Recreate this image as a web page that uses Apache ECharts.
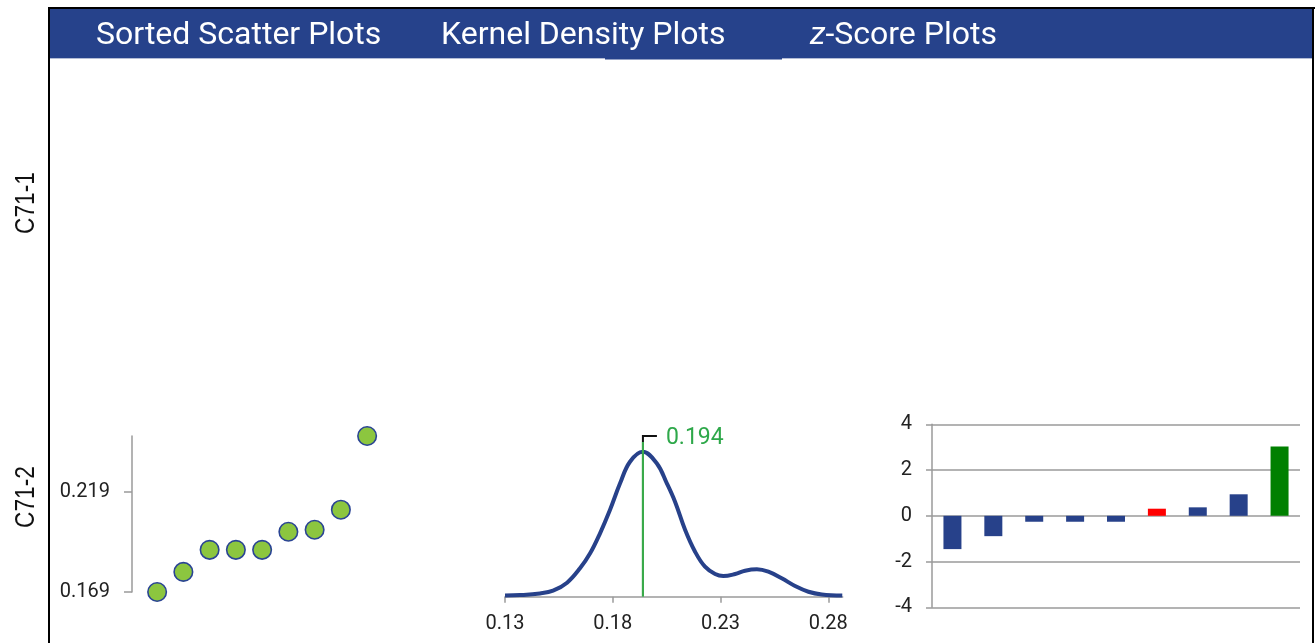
<!DOCTYPE html>
<html>
<head>
<meta charset="utf-8">
<script src="https://cdn.jsdelivr.net/npm/echarts@6/dist/echarts.min.js"></script>
<style>
html,body{margin:0;padding:0;background:#fff;}
#chart{width:1315px;height:643px;}
</style>
</head>
<body>
<div id="chart"></div>
<script>
// ---------- data ----------
const panelTitles = ['Sorted Scatter Plots', 'Kernel Density Plots', 'z-Score Plots'];
const rowLabels = ['C71-1', 'C71-2'];
const labs = ['1', '2', '3', '4', '5', '6', '7', '8', '9'];
const sortedValues = [0.169, 0.179, 0.190, 0.190, 0.190, 0.199, 0.200, 0.210, 0.2467];
const scatterTicks = [0.169, 0.219];
const kdeX = [0.130, 0.137, 0.1462, 0.1523, 0.1588, 0.1648, 0.1695, 0.1741, 0.1787, 0.1834, 0.1880, 0.1939, 0.2004, 0.2051, 0.2089, 0.2136, 0.2182, 0.2228, 0.2275, 0.2313, 0.2368, 0.2414, 0.2469, 0.2522, 0.2584, 0.2646, 0.2708, 0.2770, 0.2865];
const kdeY = [0.15, 0.22, 0.45, 0.82, 1.92, 3.89, 5.94, 8.68, 11.87, 15.52, 18.48, 19.85, 18.26, 15.52, 13.0, 9.13, 6.16, 4.11, 3.11, 2.83, 3.11, 3.56, 3.75, 3.42, 2.52, 1.46, 0.68, 0.30, 0.15];
const kdeTicks = [0.13, 0.18, 0.23, 0.28];
const kdeMin = 0.13, kdeMax = 0.2867, kdeTop = 22;
const modeValue = 0.194;
const zScores = [-1.456, -0.89, -0.26, -0.26, -0.26, 0.31, 0.37, 0.94, 3.03];
const zTicks = [-4, -2, 0, 2, 4];
const ownLabIndex = 5;

// ---------- styles ----------
const NAVY = '#27418a';
const HEADER = '#26428b';
const GRAY = '#9a9a9a';
const TXT = '#222222';
const NUMFONT = 'Roboto';

const chart = echarts.init(document.getElementById('chart'), null, {renderer: 'canvas'});

const kdeData = kdeX.map((x, i) => [x, kdeY[i]]);
const maxZ = Math.max(...zScores);

const option = {
  animation: false,
  graphic: [
    // frame
    {type: 'rect', shape: {x: 48, y: 7, width: 1267, height: 2}, style: {fill: '#000'}},
    {type: 'rect', shape: {x: 48, y: 7, width: 2, height: 640}, style: {fill: '#000'}},
    {type: 'rect', shape: {x: 1312, y: 7, width: 2, height: 640}, style: {fill: '#000'}},
    // header band
    {type: 'rect', shape: {x: 50, y: 9, width: 1262, height: 49}, style: {fill: HEADER}},
    {type: 'rect', shape: {x: 50, y: 58, width: 555, height: 1}, style: {fill: '#b4bdd6'}},
    {type: 'rect', shape: {x: 782, y: 58, width: 530, height: 1}, style: {fill: '#b4bdd6'}},
    {type: 'rect', shape: {x: 605, y: 58, width: 177, height: 1.5}, style: {fill: HEADER}},
    {type: 'text', x: 96, y: 36, style: {text: panelTitles[0], fill: '#fff', font: '32px ' + NUMFONT, verticalAlign: 'middle'}},
    {type: 'text', x: 441, y: 36, style: {text: panelTitles[1], fill: '#fff', font: '32px ' + NUMFONT, verticalAlign: 'middle'}},
    {type: 'text', x: 810, y: 36, style: {
      text: '{i|' + panelTitles[2].slice(0, 1) + '}{n|' + panelTitles[2].slice(1) + '}',
      verticalAlign: 'middle',
      rich: {
        i: {fill: '#fff', font: 'italic 32px ' + NUMFONT},
        n: {fill: '#fff', font: '32px ' + NUMFONT}
      }
    }},
    // row labels
    {type: 'text', x: 27, y: 203, rotation: Math.PI / 2, scaleX: 0.84, style: {text: rowLabels[0], fill: '#111', font: '27px "Liberation Sans", Arial, sans-serif', align: 'center', verticalAlign: 'middle'}},
    {type: 'text', x: 27, y: 497, rotation: Math.PI / 2, scaleX: 0.84, style: {text: rowLabels[1], fill: '#111', font: '27px "Liberation Sans", Arial, sans-serif', align: 'center', verticalAlign: 'middle'}}
  ],
  grid: [
    {left: 144, top: 436, width: 236.25, height: 156},
    {left: 505, top: 436, width: 337.7, height: 160.7},
    {left: 932, top: 424.3, width: 368, height: 183}
  ],
  xAxis: [
    {gridIndex: 0, type: 'category', data: labs, show: false, boundaryGap: true},
    {gridIndex: 1, type: 'value', min: kdeMin, max: kdeMax,
      axisLine: {show: true, lineStyle: {color: GRAY, width: 1.5}},
      axisTick: {show: true, length: 6, lineStyle: {color: GRAY, width: 1.5}, customValues: kdeTicks},
      axisLabel: {show: true, margin: 17, color: TXT, fontSize: 20, fontFamily: NUMFONT, customValues: kdeTicks, formatter: v => v.toFixed(2)},
      splitLine: {show: false}},
    {gridIndex: 2, type: 'category', data: labs, show: false, boundaryGap: true}
  ],
  yAxis: [
    {gridIndex: 0, type: 'value', min: 'dataMin', max: 'dataMax', offset: 12,
      axisLine: {show: true, lineStyle: {color: GRAY, width: 1.5}},
      axisTick: {show: true, length: 8, lineStyle: {color: GRAY, width: 1.5}, customValues: scatterTicks},
      axisLabel: {show: true, margin: 22, color: TXT, fontSize: 20, fontFamily: NUMFONT, customValues: scatterTicks, formatter: v => v.toFixed(3)},
      splitLine: {show: false}},
    {gridIndex: 1, type: 'value', min: 0, max: kdeTop, show: false},
    {gridIndex: 2, type: 'value', min: zTicks[0], max: zTicks[zTicks.length - 1], interval: 2,
      axisLine: {show: true, lineStyle: {color: GRAY, width: 1.5}},
      axisTick: {show: true, length: 6, lineStyle: {color: GRAY, width: 1.5}},
      axisLabel: {show: true, margin: 20, color: TXT, fontSize: 20, fontFamily: NUMFONT},
      splitLine: {show: true, lineStyle: {color: GRAY, width: 1.5}}}
  ],
  series: [
    {type: 'scatter', xAxisIndex: 0, yAxisIndex: 0, data: sortedValues, symbol: 'circle', symbolSize: 18.5,
      itemStyle: {color: '#8cc63f', borderColor: '#2a4494', borderWidth: 1.6, opacity: 1}},
    {type: 'line', xAxisIndex: 1, yAxisIndex: 1, data: kdeData, smooth: 0.4, showSymbol: false,
      lineStyle: {color: NAVY, width: 4}, z: 3},
    {type: 'custom', xAxisIndex: 1, yAxisIndex: 1, data: [[modeValue, kdeTop]], z: 5,
      renderItem: function (params, api) {
        const top = api.coord([api.value(0), api.value(1)]);
        const bot = api.coord([api.value(0), 0]);
        return {type: 'group', children: [
          {type: 'line', shape: {x1: bot[0], y1: bot[1], x2: top[0], y2: top[1] + 6}, style: {stroke: '#3aaa4a', lineWidth: 2.2}},
          {type: 'polyline', shape: {points: [[top[0], top[1] + 6], [top[0], top[1]], [top[0] + 14, top[1]]]}, style: {stroke: '#111', lineWidth: 2, fill: null}},
          {type: 'text', x: top[0] + 23, y: top[1] + 2, style: {text: modeValue.toFixed(3), fill: '#2ea84a', font: '23px ' + NUMFONT, verticalAlign: 'middle'}}
        ]};
      }},
    {type: 'bar', xAxisIndex: 2, yAxisIndex: 2, data: zScores, barWidth: 18,
      itemStyle: {color: function (p) {
        if (p.dataIndex === ownLabIndex) return '#ff0000';
        if (p.value === maxZ) return '#008000';
        return NAVY;
      }}}
  ]
};
chart.setOption(option);
</script>
</body>
</html>
